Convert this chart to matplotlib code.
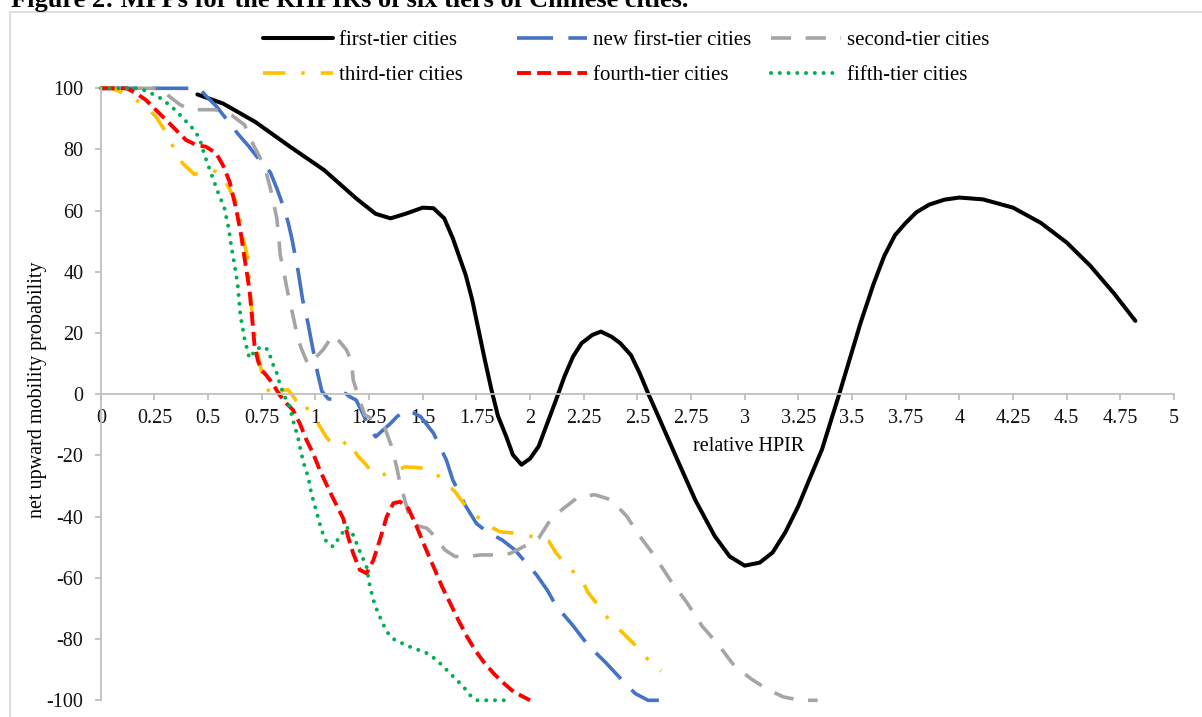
# MPP curves for six tiers of Chinese cities
import matplotlib
matplotlib.use('Agg')
import matplotlib.pyplot as plt
from matplotlib.patches import Rectangle
import numpy as np

plt.rcParams['font.family'] = ['Liberation Serif', 'DejaVu Serif']
plt.rcParams['axes.unicode_minus'] = False
plt.rcParams['lines.scale_dashes'] = False

# first-tier cities (black)
first_x = [0.45, 0.57, 0.72, 0.88, 1.04, 1.19, 1.28, 1.35, 1.42, 1.5, 1.55, 1.6, 1.64, 1.67, 1.7,
           1.73, 1.76, 1.79, 1.82, 1.85, 1.89, 1.92, 1.96, 2.0, 2.04, 2.08, 2.12, 2.16, 2.2, 2.24,
           2.29, 2.33, 2.38, 2.42, 2.47, 2.51, 2.55, 2.59, 2.64, 2.69, 2.77, 2.86, 2.93, 3.0, 3.07,
           3.13, 3.19, 3.25, 3.3, 3.36, 3.44, 3.54, 3.6, 3.65, 3.7, 3.75, 3.8, 3.86, 3.93, 4.0,
           4.11, 4.25, 4.38, 4.5, 4.61, 4.72, 4.82]
first_y = [98, 95, 89, 81, 73.3, 64, 59, 57.5, 59, 61, 60.8, 57.5, 51, 45, 39,
           31, 21, 11, 1.5, -7, -14, -19.8, -23, -21, -17, -9.5, -2, 5.8, 12.3, 16.7,
           19.4, 20.5, 18.8, 16.7, 12.8, 7, 0.3, -6, -14, -22, -34.6, -46.3, -53, -56, -55,
           -51.7, -45, -36.5, -28, -18, 0, 23.4, 36, 45.2, 52, 56, 59.5, 62, 63.6, 64.3,
           63.7, 61, 56, 49.6, 42, 33, 24]

# new first-tier cities (blue)
newfirst_x = [0, 0.46, 0.49, 0.54, 0.59, 0.64, 0.69, 0.74, 0.79, 0.82, 0.85, 0.872, 0.89, 0.92,
              0.94, 0.966, 0.98, 1.01, 1.03, 1.06, 1.08, 1.11, 1.14, 1.16, 1.19, 1.22, 1.25, 1.28,
              1.31, 1.35, 1.38, 1.42, 1.46, 1.49, 1.55, 1.58, 1.61, 1.64, 1.7, 1.75, 1.8, 1.87,
              1.93, 1.98, 2.03, 2.08, 2.12, 2.2, 2.27, 2.35, 2.43, 2.49, 2.55, 2.6]
newfirst_y = [100, 100, 97.5, 94, 89.5, 85, 81, 76.5, 72.5, 67.3, 61.5, 56.4, 51, 40,
              31, 23, 17.7, 7, 1, -1.5, -1.6, -1.3, 0.3, -0.8, -1.9, -6.2, -10.6, -13.9,
              -12, -9.5, -7.3, -5.1, -6.2, -7.3, -12.7, -17.1, -21.5, -28, -36.5, -42.2, -45, -47.6,
              -50.9, -55, -59, -64, -69, -75.6, -82, -87.5, -93.5, -97.8, -100, -100]

# second-tier cities (grey)
second_x = [0, 0.28, 0.32, 0.37, 0.42, 0.53, 0.57, 0.61, 0.67, 0.70, 0.74, 0.77, 0.794, 0.82,
            0.828, 0.836, 0.85, 0.864, 0.88, 0.9, 0.915, 0.934, 0.966, 0.99, 1.035, 1.082, 1.1,
            1.145, 1.168, 1.176, 1.2, 1.23, 1.277, 1.324, 1.355, 1.378, 1.394, 1.41, 1.433, 1.464,
            1.52, 1.55, 1.604, 1.65, 1.713, 1.768, 1.846, 1.908, 1.986, 2.04, 2.086, 2.15, 2.22,
            2.3, 2.375, 2.45, 2.51, 2.58, 2.65, 2.73, 2.8, 2.88, 2.95, 3.03, 3.1, 3.18, 3.26, 3.34]
second_y = [100, 100, 97.3, 94.6, 93, 93, 92.5, 91.2, 88, 83, 77.6, 72.7, 66.2, 57.5,
            52, 45.5, 41, 35.7, 30.3, 24.3, 19, 15, 9.6, 11.2, 14.5, 19.4, 18.3,
            14.5, 10.7, 4.7, -0.8, -6.8, -8.4, -11.1, -17.1, -23.7, -29, -32.9, -38.8, -42.7,
            -43.8, -46, -50.9, -53, -53, -52.5, -52.5, -52, -49.2, -47, -42, -37.6, -33.8,
            -32.8, -34.4, -39.8, -46.3, -52.8, -60.4, -68, -75.6, -82.1, -88.6, -93, -96.2, -98.9,
            -100, -100]

# third-tier cities (yellow)
third_x = [0, 0.05, 0.13, 0.21, 0.257, 0.307, 0.343, 0.38, 0.436, 0.48, 0.52, 0.568, 0.6, 0.63,
           0.646, 0.67, 0.685, 0.70, 0.72, 0.74, 0.763, 0.794, 0.83, 0.872, 0.9, 0.927, 0.95,
           0.973, 1.012, 1.05, 1.075, 1.12, 1.15, 1.2, 1.23, 1.27, 1.308, 1.37, 1.417, 1.487, 1.55,
           1.604, 1.65, 1.69, 1.744, 1.8, 1.86, 1.93, 2.01, 2.087, 2.12, 2.17, 2.24, 2.27, 2.33,
           2.375, 2.43, 2.49, 2.54, 2.61]
third_y = [100, 100, 97.8, 94, 90.7, 85.3, 80, 75.6, 71.9, 72.5, 73.3, 71.6, 67, 63,
           58.6, 48.8, 44.4, 30, 18, 10, 4.1, -0.8, 1, 1.5, -1, -4, -3,
           -6.2, -9.5, -13.9, -16, -17, -15, -20.4, -22.5, -26, -26.4, -25.3, -23.7, -24, -25.3,
           -28.6, -31.8, -35.6, -39.4, -42.7, -44.9, -45.4, -46.5, -48, -51.7, -56, -60.4, -64.8, -70,
           -74.5, -77.8, -82, -86, -90.5]

# fourth-tier cities (red)
fourth_x = [0, 0.12, 0.164, 0.21, 0.257, 0.304, 0.35, 0.397, 0.444, 0.49, 0.537, 0.568, 0.6,
            0.63, 0.654, 0.67, 0.693, 0.705, 0.716, 0.732, 0.748, 0.77, 0.80, 0.833, 0.864, 0.895,
            0.927, 0.958, 0.989, 1.02, 1.067, 1.098, 1.129, 1.152, 1.176, 1.207, 1.238, 1.27, 1.30,
            1.332, 1.363, 1.394, 1.433, 1.472, 1.51, 1.55, 1.59, 1.628, 1.666, 1.706, 1.744, 1.783,
            1.83, 1.877, 1.923, 2.0]
fourth_y = [100, 100, 98.4, 96.2, 92.9, 89.7, 86.4, 83.1, 81.5, 80.9, 78.8, 75, 69.5,
            60.8, 52, 44.4, 34, 25, 16, 11, 8, 6.3, 3.6, -0.2, -2.9, -5.1,
            -9.5, -14.9, -19.3, -24.7, -31.8, -36.2, -40.5, -46.5, -52, -57.4, -58.5, -54.2, -47.6,
            -40, -35.6, -35.1, -37.3, -43.3, -49.8, -56.3, -62.9, -68.3, -73.8, -79.2, -83.6, -87.4,
            -91.2, -94.4, -97.2, -100]

# fifth-tier cities (green)
fifth_x = [0, 0.18, 0.234, 0.28, 0.33, 0.38, 0.428, 0.46, 0.483, 0.514, 0.545, 0.576, 0.596,
           0.607, 0.623, 0.638, 0.65, 0.67, 0.69, 0.70, 0.716, 0.755, 0.78, 0.80, 0.818, 0.833,
           0.857, 0.88, 0.895, 0.918, 0.934, 0.95, 0.966, 0.981, 1.005, 1.028, 1.051, 1.082, 1.114,
           1.145, 1.176, 1.207, 1.238, 1.254, 1.277, 1.30, 1.332, 1.37, 1.44, 1.519, 1.565, 1.596,
           1.659, 1.69, 1.72, 1.752, 1.89]
fifth_y = [100, 100, 98.4, 96.7, 94, 90.5, 86.9, 83.7, 78.2, 72.2, 66.2, 60.8, 54.2,
           48.8, 42.3, 35.7, 26, 18, 12.5, 11.8, 14.5, 15.6, 14.5, 10.1, 7.4, 3.6,
           -0.8, -4, -8.4, -13.9, -19.3, -23.7, -26.9, -32.4, -38.4, -44.3, -48.2, -49.8, -46.5,
           -43.3, -46, -51.4, -56.3, -62.9, -68.9, -72.7, -77.6, -80.3, -82.5, -84.6, -86.8, -89,
           -93.4, -95.6, -98.3, -100, -100]

x_ticks = [0, 0.25, 0.5, 0.75, 1, 1.25, 1.5, 1.75, 2, 2.25, 2.5, 2.75, 3, 3.25, 3.5, 3.75,
           4, 4.25, 4.5, 4.75, 5]
y_ticks = [-100, -80, -60, -40, -20, 0, 20, 40, 60, 80, 100]

W, H = 1202, 717
fig = plt.figure(figsize=(W / 100, H / 100), dpi=100)

# chart area border
fig.patches.append(Rectangle((10 / W, -0.02), 1.05, 1 - 11.5 / H + 0.02, transform=fig.transFigure,
                             fill=False, edgecolor='#D9D9D9', linewidth=1.2))

fig.text(11 / W, 1 - 7 / H, 'Figure 2: MPPs for the RHPIRs of six tiers of Chinese cities.',
         fontsize=19, fontweight='bold', va='baseline', ha='left')

ax = fig.add_axes([100.8 / W, 1 - 700.3 / H, (1174 - 100.8) / W, (700.3 - 88.3) / H])
fs = 14.5

l1, = ax.plot(first_x, first_y, color='black', lw=2.9, label='first-tier cities',
              solid_capstyle='round')
l2, = ax.plot(newfirst_x, newfirst_y, color='#4472C4', lw=2.6, dashes=(26, 11),
              label='new first-tier cities')
l3, = ax.plot(second_x, second_y, color='#A5A5A5', lw=2.6, dashes=(14.5, 10.5),
              label='second-tier cities')
l4, = ax.plot(third_x, third_y, color='#FFC000', lw=2.6, dashes=(16, 11.5, 2.5, 11.5),
              label='third-tier cities')
l5, = ax.plot(fourth_x, fourth_y, color='#FF0000', lw=2.8, dashes=(10, 4.5),
              label='fourth-tier cities')
l6, = ax.plot(fifth_x, fifth_y, color='#00B050', lw=2.9, dashes=(0.01, 6.3),
              dash_capstyle='round', label='fifth-tier cities')
for ln in (l1, l2, l3, l4, l5, l6):
    ln.set_clip_on(False)

ax.set_xlim(0, 5)
ax.set_ylim(-100, 100)
ax.set_xticks(x_ticks)
ax.set_xticklabels(['{:g}'.format(t) for t in x_ticks])
ax.set_yticks(y_ticks)
ax.set_yticklabels(['{:g}'.format(t) for t in y_ticks])
ax.spines['top'].set_visible(False)
ax.spines['right'].set_visible(False)
ax.spines['bottom'].set_position(('data', 0))
for s in ('left', 'bottom'):
    ax.spines[s].set_color('#BFBFBF')
    ax.spines[s].set_linewidth(1.3)
ax.tick_params(axis='both', direction='out', length=4.5, width=1.3, color='#BFBFBF',
               labelsize=fs, labelcolor='#111111')
ax.tick_params(axis='x', pad=6)
ax.tick_params(axis='y', pad=8)
ax.patch.set_alpha(0)

ax.text(3.02, -17.2, 'relative HPIR', fontsize=fs, ha='center', va='center')
fig.text(38 / W, 1 - 390 / H, 'net upward mobility probability', rotation=90,
         fontsize=fs, ha='center', va='center')

# legend: three columns placed like the original
cols = [((l1, l4), 263), ((l2, l5), 517), ((l3, l6), 771)]
legs = []
for handles, xpix in cols:
    lg = ax.legend(handles=list(handles), loc='center left',
                   bbox_to_anchor=(xpix / W, 1 - 58 / H), bbox_transform=fig.transFigure,
                   frameon=False, fontsize=15, handlelength=3.36, handletextpad=0.29,
                   labelspacing=0.74, borderpad=0, borderaxespad=0)
    legs.append(lg)
for lg in legs[:-1]:
    ax.add_artist(lg)

fig.savefig('out.png', dpi=100)
